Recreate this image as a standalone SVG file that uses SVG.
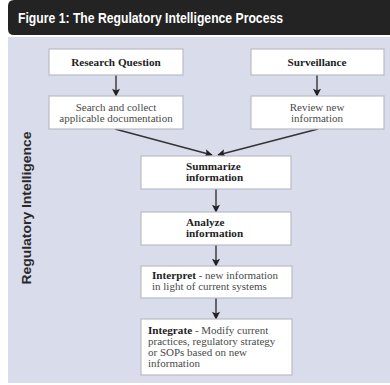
<svg xmlns="http://www.w3.org/2000/svg" width="390" height="385" viewBox="0 0 390 385">
<style>
.box{fill:#ffffff;stroke:#b9bcc6;stroke-width:1.2}
.t{font-family:"Liberation Serif","DejaVu Serif",serif;font-size:11px;fill:#4a4a4a}
.b{font-family:"Liberation Serif","DejaVu Serif",serif;font-size:11.2px;font-weight:bold;fill:#1e1e1e}
.c{stroke:#333;stroke-width:1.4;fill:none;marker-end:url(#ah)}
</style>
<defs>
<marker id="ah" viewBox="0 0 10 10" refX="9" refY="5" markerWidth="9" markerHeight="8" markerUnits="userSpaceOnUse" orient="auto">
<path d="M0,0 L10,5 L0,10 L2,5 Z" fill="#222"/>
</marker>
</defs>
<rect x="0" y="0" width="390" height="385" fill="#ffffff"/>
<path d="M8,6 Q8,0 14,0 L390,0 L390,35 L14,35 Q8,35 8,29 Z" fill="#232323"/>
<text x="18" y="23" font-family="Liberation Sans,Arial,sans-serif" font-size="14.5" font-weight="bold" fill="#ffffff" textLength="265" lengthAdjust="spacingAndGlyphs">Figure 1: The Regulatory Intelligence Process</text>
<rect x="8" y="37" width="382" height="346" fill="#d9dcea"/>
<text transform="translate(31,208) rotate(-90)" text-anchor="middle" font-family="Liberation Sans,Arial,sans-serif" font-size="13.5" font-weight="bold" fill="#2a2a2a" textLength="153" lengthAdjust="spacingAndGlyphs">Regulatory Intelligence</text>
<g id="connectors">
<line class="c" x1="116" y1="75" x2="116" y2="96"/>
<line class="c" x1="317" y1="75" x2="317" y2="96"/>
<line class="c" x1="115" y1="129" x2="212" y2="155"/>
<line class="c" x1="318" y1="129" x2="218" y2="155"/>
<line class="c" x1="216" y1="189" x2="216" y2="212"/>
<line class="c" x1="216" y1="245" x2="216" y2="266"/>
<line class="c" x1="216" y1="298" x2="216" y2="319"/>
</g>
<g id="research">
<rect class="box" x="49" y="49" width="134" height="26"/>
<text class="b" x="116" y="66" text-anchor="middle">Research Question</text>
</g>
<g id="surveillance">
<rect class="box" x="251" y="49" width="133" height="26"/>
<text class="b" x="317" y="66" text-anchor="middle">Surveillance</text>
</g>
<g id="search">
<rect class="box" x="49" y="96" width="134" height="33"/>
<text class="t" x="116" y="111" text-anchor="middle">Search and collect</text>
<text class="t" x="116" y="122" text-anchor="middle">applicable documentation</text>
</g>
<g id="review">
<rect class="box" x="251" y="96" width="133" height="33"/>
<text class="t" x="317" y="111" text-anchor="middle">Review new</text>
<text class="t" x="317" y="122" text-anchor="middle">information</text>
</g>
<g id="summarize">
<rect class="box" x="141" y="156" width="150" height="33"/>
<text class="b" x="186" y="170">Summarize</text>
<text class="b" x="186" y="181">information</text>
</g>
<g id="analyze">
<rect class="box" x="141" y="212" width="150" height="33"/>
<text class="b" x="186" y="226">Analyze</text>
<text class="b" x="186" y="237">information</text>
</g>
<g id="interpret">
<rect class="box" x="141" y="266" width="151" height="32"/>
<text class="t" x="152" y="279"><tspan class="b">Interpret</tspan> - new information</text>
<text class="t" x="152" y="290">in light of current systems</text>
</g>
<g id="integrate">
<rect class="box" x="141" y="319" width="151" height="56"/>
<text class="t" x="148" y="334"><tspan class="b">Integrate</tspan> - Modify current</text>
<text class="t" x="148" y="345">practices, regulatory strategy</text>
<text class="t" x="148" y="356">or SOPs based on new</text>
<text class="t" x="148" y="367">information</text>
</g>
</svg>
